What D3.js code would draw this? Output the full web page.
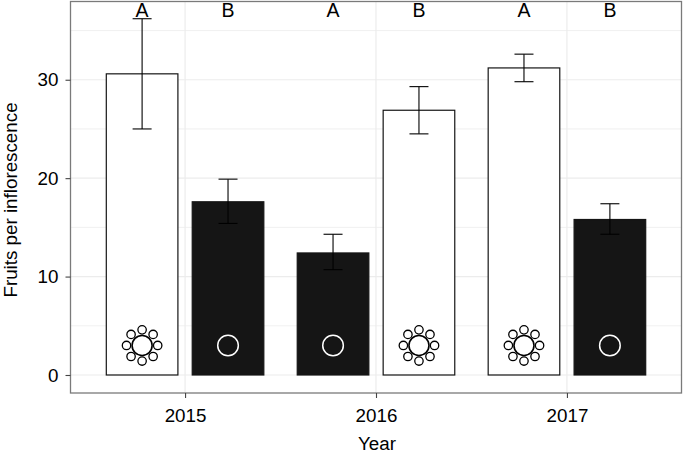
<!DOCTYPE html>
<html><head><meta charset="utf-8">
<script src="https://cdn.jsdelivr.net/npm/d3@7"></script>
<style>html,body{margin:0;padding:0;background:#fff}svg{display:block}text{font-family:"Liberation Sans",Arial,sans-serif;fill:#000}</style>
</head><body><svg id="c" width="684" height="456"></svg>
<script>
const years=[2015,2015,2016,2016,2017,2017];
const morphs=["flower","plain","plain","flower","flower","plain"];
const order=[-1,1,-1,1,-1,1];
const means=[30.6,17.6,12.4,26.9,31.2,15.8];
const lower=[25.0,15.4,10.7,24.5,29.8,14.3];
const upper=[36.2,19.9,14.3,29.3,32.6,17.4];
const letters=["A","B","A","B","A","B"];
const yearTicks=[2015,2016,2017];
const yTicks=[0,10,20,30];
const yMinor=[5,15,25,35];
const petalAngles=[0,45,90,135,180,225,270,315];
const dodge=0.225,barW=0.375,symbolY=3;

const L=70.5,R=681.5,T=1.5,B=393;
const svg=d3.select("#c");
const x=d3.scaleLinear().domain([2014.4,2017.6]).range([L,R]);
const y=d3.scaleLinear().domain([-1.83,37.95]).range([B,T]);
const cx=i=>x(years[i]+order[i]*dodge);

const grid=svg.append("g").attr("stroke","#ececec").attr("fill","none");
yMinor.forEach(v=>grid.append("line").attr("x1",L).attr("x2",R).attr("y1",y(v)).attr("y2",y(v)).attr("stroke-width",.8));
yTicks.forEach(v=>grid.append("line").attr("x1",L).attr("x2",R).attr("y1",y(v)).attr("y2",y(v)).attr("stroke-width",1.2));
yearTicks.forEach(v=>grid.append("line").attr("x1",x(v)).attr("x2",x(v)).attr("y1",T).attr("y2",B).attr("stroke-width",1.2));

svg.selectAll("rect.bar").data(means).join("rect").attr("class","bar")
 .attr("x",(d,i)=>x(years[i]+order[i]*dodge-barW/2)).attr("width",x(2015+barW)-x(2015))
 .attr("y",d=>y(d)).attr("height",d=>y(0)-y(d))
 .attr("fill",(d,i)=>morphs[i]==="flower"?"#fff":"#151515").attr("stroke","#151515").attr("stroke-width",1.2);

const eb=svg.append("g").attr("stroke","#000").attr("stroke-width",1.1);
means.forEach((m,i)=>{
 eb.append("line").attr("x1",cx(i)).attr("x2",cx(i)).attr("y1",y(lower[i])).attr("y2",y(upper[i]));
 [lower[i],upper[i]].forEach(v=>eb.append("line").attr("x1",cx(i)-9.5).attr("x2",cx(i)+9.5).attr("y1",y(v)).attr("y2",y(v)));
});

means.forEach((m,i)=>{
 const g=svg.append("g").attr("transform",`translate(${cx(i)},${y(symbolY)})`);
 if(morphs[i]==="flower"){
  petalAngles.forEach(a=>{const t=a*Math.PI/180;
   g.append("circle").attr("cx",15.6*Math.cos(t)).attr("cy",15.6*Math.sin(t)).attr("r",4.2).attr("fill","#fff").attr("stroke","#000").attr("stroke-width",1.3);});
  g.append("circle").attr("r",10).attr("fill","#fff").attr("stroke","#000").attr("stroke-width",1.6);
 } else {
  g.append("circle").attr("r",10.3).attr("fill","none").attr("stroke","#fff").attr("stroke-width",1.5);
 }
});

svg.selectAll("text.letter").data(letters).join("text").attr("class","letter")
 .attr("x",(d,i)=>cx(i)).attr("y",17).attr("text-anchor","middle").attr("font-size",19.5).text(d=>d);

svg.append("rect").attr("x",L).attr("y",T).attr("width",R-L).attr("height",B-T).attr("fill","none").attr("stroke","#7a7a7a").attr("stroke-width",1.3);

const yAxis=svg.append("g").attr("transform",`translate(${L},0)`).call(d3.axisLeft(y).tickValues(yTicks).tickSize(5).tickPadding(4).tickFormat(d3.format("d")));
const xAxis=svg.append("g").attr("transform",`translate(0,${B})`).call(d3.axisBottom(x).tickValues(yearTicks).tickSize(5).tickPadding(6).tickFormat(d3.format("d")));
[yAxis,xAxis].forEach(a=>{a.select(".domain").remove();a.selectAll("line").attr("stroke","#444").attr("stroke-width",1.1);a.selectAll("text").attr("font-size",18.8).attr("fill","#000").style("font-family",'"Liberation Sans",Arial,sans-serif');});
xAxis.selectAll("text").attr("dy",null).attr("y",29);
yAxis.selectAll("text").attr("x",-12);

svg.append("text").attr("x",377).attr("y",450).attr("text-anchor","middle").attr("font-size",18.8).text("Year");
svg.append("text").attr("transform","translate(17,200) rotate(-90)").attr("text-anchor","middle").attr("font-size",18.8).text("Fruits per inflorescence");
</script></body></html>
